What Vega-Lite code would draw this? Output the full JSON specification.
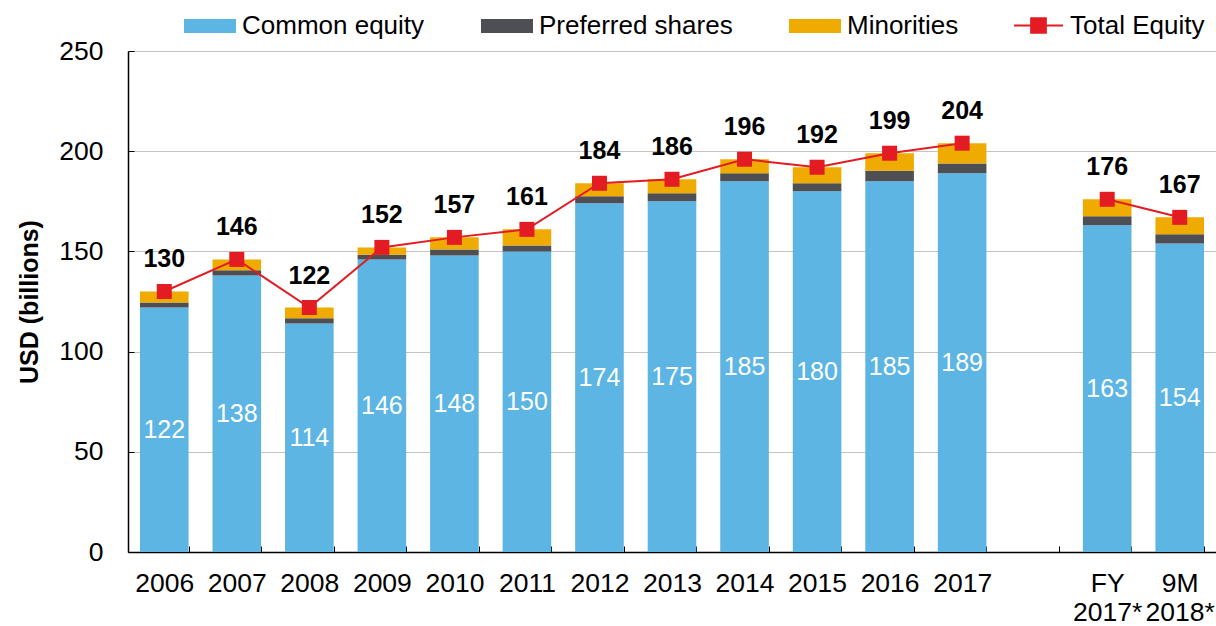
{
  "$schema": "https://vega.github.io/schema/vega-lite/v6.json",
  "width": 1088,
  "height": 501,
  "autosize": {"type": "none"},
  "padding": {"left": 128, "top": 51, "right": 0, "bottom": 74},
  "background": "white",
  "config": {
    "font": "Liberation Sans",
    "view": {"stroke": null},
    "axis": {"labelFont": "Liberation Sans", "titleFont": "Liberation Sans", "labelColor": "black", "titleColor": "black"},
    "legend": {"labelFont": "Liberation Sans", "labelColor": "black", "labelFontSize": 26, "labelLimit": 400}
  },
  "datasets": {
    "bars": [
      {"year": "2006", "series": "Common equity", "value": 122},
      {"year": "2006", "series": "Preferred shares", "value": 2.5},
      {"year": "2006", "series": "Minorities", "value": 5.5},
      {"year": "2007", "series": "Common equity", "value": 138},
      {"year": "2007", "series": "Preferred shares", "value": 2.6},
      {"year": "2007", "series": "Minorities", "value": 5.4},
      {"year": "2008", "series": "Common equity", "value": 114},
      {"year": "2008", "series": "Preferred shares", "value": 2.6},
      {"year": "2008", "series": "Minorities", "value": 5.4},
      {"year": "2009", "series": "Common equity", "value": 146},
      {"year": "2009", "series": "Preferred shares", "value": 2.3},
      {"year": "2009", "series": "Minorities", "value": 3.7},
      {"year": "2010", "series": "Common equity", "value": 148},
      {"year": "2010", "series": "Preferred shares", "value": 2.9},
      {"year": "2010", "series": "Minorities", "value": 6.1},
      {"year": "2011", "series": "Common equity", "value": 150},
      {"year": "2011", "series": "Preferred shares", "value": 3.0},
      {"year": "2011", "series": "Minorities", "value": 8.0},
      {"year": "2012", "series": "Common equity", "value": 174},
      {"year": "2012", "series": "Preferred shares", "value": 3.5},
      {"year": "2012", "series": "Minorities", "value": 6.5},
      {"year": "2013", "series": "Common equity", "value": 175},
      {"year": "2013", "series": "Preferred shares", "value": 4.0},
      {"year": "2013", "series": "Minorities", "value": 7.0},
      {"year": "2014", "series": "Common equity", "value": 185},
      {"year": "2014", "series": "Preferred shares", "value": 4.0},
      {"year": "2014", "series": "Minorities", "value": 7.0},
      {"year": "2015", "series": "Common equity", "value": 180},
      {"year": "2015", "series": "Preferred shares", "value": 4.0},
      {"year": "2015", "series": "Minorities", "value": 8.0},
      {"year": "2016", "series": "Common equity", "value": 185},
      {"year": "2016", "series": "Preferred shares", "value": 5.3},
      {"year": "2016", "series": "Minorities", "value": 8.7},
      {"year": "2017", "series": "Common equity", "value": 189},
      {"year": "2017", "series": "Preferred shares", "value": 4.8},
      {"year": "2017", "series": "Minorities", "value": 10.2},
      {"year": "FY 2017*", "series": "Common equity", "value": 163},
      {"year": "FY 2017*", "series": "Preferred shares", "value": 4.5},
      {"year": "FY 2017*", "series": "Minorities", "value": 8.5},
      {"year": "9M 2018*", "series": "Common equity", "value": 154},
      {"year": "9M 2018*", "series": "Preferred shares", "value": 4.5},
      {"year": "9M 2018*", "series": "Minorities", "value": 8.5}
    ],
    "totals": [
      {"year": "2006", "period": "annual", "total": 130},
      {"year": "2007", "period": "annual", "total": 146},
      {"year": "2008", "period": "annual", "total": 122},
      {"year": "2009", "period": "annual", "total": 152},
      {"year": "2010", "period": "annual", "total": 157},
      {"year": "2011", "period": "annual", "total": 161},
      {"year": "2012", "period": "annual", "total": 184},
      {"year": "2013", "period": "annual", "total": 186},
      {"year": "2014", "period": "annual", "total": 196},
      {"year": "2015", "period": "annual", "total": 192},
      {"year": "2016", "period": "annual", "total": 199},
      {"year": "2017", "period": "annual", "total": 204},
      {"year": "FY 2017*", "period": "interim", "total": 176},
      {"year": "9M 2018*", "period": "interim", "total": 167}
    ]
  },
  "layer": [
    {
      "data": {"name": "bars"},
      "transform": [{"calculate": "indexof(['Common equity', 'Preferred shares', 'Minorities'], datum.series)", "as": "stackOrder"}],
      "mark": {"type": "bar"},
      "encoding": {
        "x": {
          "field": "year", "type": "nominal", "title": null,
          "scale": {"domain": ["2006","2007","2008","2009","2010","2011","2012","2013","2014","2015","2016","2017","gap","FY 2017*","9M 2018*"], "paddingInner": 0.33, "paddingOuter": 0.165},
          "axis": {
            "labelExpr": "(datum.value == null || datum.value == 'gap') ? '' : split(datum.value, ' ')",
            "labelAngle": 0, "labelFontSize": 26.5, "labelPadding": 24, "labelLineHeight": 29,
            "labelOverlap": false, "labelBound": false,
            "tickBand": "extent", "tickSize": -6, "tickColor": "black", "tickWidth": 1,
            "domainColor": "black", "domainWidth": 1.5, "grid": false
          }
        },
        "y": {
          "field": "value", "type": "quantitative", "stack": "zero", "title": "USD (billions)",
          "scale": {"domain": [0, 250], "nice": false},
          "axis": {
            "values": [0, 50, 100, 150, 200, 250],
            "grid": true, "gridColor": "#C4C4C4", "gridWidth": 1,
            "domainColor": "black", "domainWidth": 1.5,
            "tickColor": "black", "tickSize": -6, "tickWidth": 1,
            "labelFontSize": 26.5, "labelPadding": 31,
            "titleFontSize": 25, "titleFontWeight": "bold", "titlePadding": 16
          }
        },
        "color": {
          "field": "series", "type": "nominal",
          "sort": ["Common equity", "Preferred shares", "Minorities"],
          "scale": {"domain": ["Common equity", "Preferred shares", "Minorities"], "range": ["#5DB5E3", "#4E4F54", "#F0AB00"]},
          "legend": {
            "title": null, "orient": "none", "direction": "horizontal",
            "legendX": 56, "legendY": -51,
            "symbolType": "M-1,-0.27L1,-0.27L1,0.27L-1,0.27Z", "symbolSize": 2704,
            "symbolStrokeWidth": 0, "symbolOpacity": 1,
            "labelOffset": 6, "columnPadding": 56, "labelFontSize": 26, "labelLimit": 400
          }
        },
        "order": {"field": "stackOrder", "type": "quantitative", "sort": "ascending"}
      }
    },
    {
      "data": {"name": "bars"},
      "transform": [{"filter": "datum.series == 'Common equity'"}],
      "mark": {"type": "text", "color": "white", "fontSize": 25, "baseline": "middle", "align": "center"},
      "encoding": {
        "x": {"field": "year", "type": "nominal", "scale": {"domain": ["2006","2007","2008","2009","2010","2011","2012","2013","2014","2015","2016","2017","gap","FY 2017*","9M 2018*"]}},
        "y": {"field": "value", "type": "quantitative", "scale": {"domain": [0, 500], "nice": false}, "axis": null},
        "text": {"field": "value", "type": "quantitative", "format": "d"}
      }
    },
    {
      "data": {"name": "totals"},
      "mark": {"type": "line", "strokeWidth": 2},
      "encoding": {
        "x": {"field": "year", "type": "nominal", "scale": {"domain": ["2006","2007","2008","2009","2010","2011","2012","2013","2014","2015","2016","2017","gap","FY 2017*","9M 2018*"]}},
        "y": {"field": "total", "type": "quantitative", "scale": {"domain": [0, 250], "nice": false}, "axis": null},
        "detail": {"field": "period"},
        "stroke": {
          "datum": "Total Equity", "type": "nominal",
          "scale": {"domain": ["Total Equity"], "range": ["#E31B23"]},
          "legend": {
            "title": null, "orient": "none", "legendX": 885, "legendY": -51,
            "symbolType": "M-1,0L1,0M-0.3,-0.3L0.3,-0.3L0.3,0.3L-0.3,0.3Z",
            "symbolSize": 2401, "symbolStrokeWidth": 2, "symbolFillColor": "#E31B23",
            "labelOffset": 6, "labelFontSize": 26, "labelLimit": 400,
            "encode": {"symbols": {"update": {"fill": {"value": "#E31B23"}, "stroke": {"value": "#E31B23"}, "strokeWidth": {"value": 2}, "opacity": {"value": 1}}}}
          }
        }
      }
    },
    {
      "data": {"name": "totals"},
      "mark": {"type": "square", "size": 225, "color": "#E31B23", "opacity": 1},
      "encoding": {
        "x": {"field": "year", "type": "nominal", "scale": {"domain": ["2006","2007","2008","2009","2010","2011","2012","2013","2014","2015","2016","2017","gap","FY 2017*","9M 2018*"]}},
        "y": {"field": "total", "type": "quantitative", "scale": {"domain": [0, 250], "nice": false}, "axis": null}
      }
    },
    {
      "data": {"name": "totals"},
      "mark": {"type": "text", "color": "black", "fontSize": 25, "fontWeight": "bold", "baseline": "middle", "align": "center", "dy": -32},
      "encoding": {
        "x": {"field": "year", "type": "nominal", "scale": {"domain": ["2006","2007","2008","2009","2010","2011","2012","2013","2014","2015","2016","2017","gap","FY 2017*","9M 2018*"]}},
        "y": {"field": "total", "type": "quantitative", "scale": {"domain": [0, 250], "nice": false}, "axis": null},
        "text": {"field": "total", "type": "quantitative", "format": "d"}
      }
    }
  ],
  "resolve": {"scale": {"y": "independent"}}
}
